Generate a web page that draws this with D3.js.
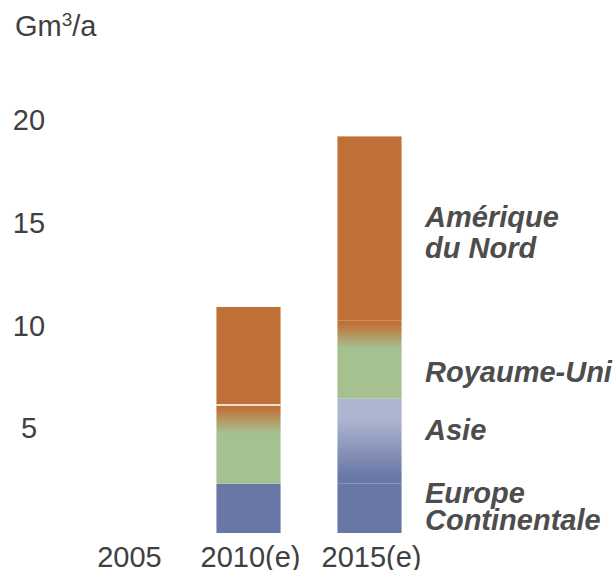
<!DOCTYPE html>
<html><head><meta charset="utf-8">
<script src="https://cdn.jsdelivr.net/npm/d3@7"></script>
<style>body{margin:0;background:#fff}svg{display:block}text{font-family:"Liberation Sans",Arial,sans-serif}</style>
</head><body>
<svg id="c" width="615" height="570"></svg>
<script>
const categories = ["2005", "2010(e)", "2015(e)"];
const seriesNames = ["Europe Continentale", "Asie", "Royaume-Uni", "Amérique du Nord"];
const europe = [0, 2.4, 2.4];
const asie = [0, 0, 4.15];
const royaumeUni = [0, 3.85, 3.8];
const ameriqueNord = [0, 4.75, 8.95];
const yTicks = [5, 10, 15, 20];
const unitLabel = ["Gm", "3", "/a"];
const legendLines = [["Amérique", "du Nord"], ["Royaume-Uni"], ["Asie"], ["Europe", "Continentale"]];

const svg = d3.select("#c");
const x = d3.scaleBand().domain(categories).range([67, 430]).paddingInner(0.47).paddingOuter(0.235);
const y = d3.scaleLinear().domain([0, 20]).range([533, 122]);

const colors = {orange:"#c07036", green:"#a6c190", blue:"#6877a6", light:"#adb5d0"};
const defs = svg.append("defs");
const gUK = defs.append("linearGradient").attr("id","gUK").attr("x1",0).attr("y1",0).attr("x2",0).attr("y2",1);
gUK.append("stop").attr("offset","0%").attr("stop-color",colors.orange);
gUK.append("stop").attr("offset","4%").attr("stop-color",colors.orange);
gUK.append("stop").attr("offset","36%").attr("stop-color",colors.green);
gUK.append("stop").attr("offset","100%").attr("stop-color",colors.green);
const gAs = defs.append("linearGradient").attr("id","gAs").attr("x1",0).attr("y1",0).attr("x2",0).attr("y2",1);
gAs.append("stop").attr("offset","0%").attr("stop-color",colors.light);
gAs.append("stop").attr("offset","25%").attr("stop-color",colors.light);
gAs.append("stop").attr("offset","92%").attr("stop-color",colors.blue);
gAs.append("stop").attr("offset","100%").attr("stop-color",colors.blue);

const fills = ["#6877a6", "url(#gAs)", "url(#gUK)", "#c07036"];
const rows = categories.map((c, i) => ({cat:c, s0:europe[i], s1:asie[i], s2:royaumeUni[i], s3:ameriqueNord[i]}));
const stack = d3.stack().keys(["s0","s1","s2","s3"])(rows);

stack.forEach((layer, li) => {
  svg.append("g").selectAll("rect").data(layer.filter(d => d[1] - d[0] > 0)).join("rect")
    .attr("x", d => x(d.data.cat))
    .attr("width", x.bandwidth())
    .attr("y", d => y(d[1]))
    .attr("height", d => y(d[0]) - y(d[1]))
    .attr("fill", fills[li]);
});
// thin white separator at top of Royaume-Uni segment in 2010(e)
const sepLayer = stack[2].filter(d => d.data.cat === "2010(e)");
svg.append("g").selectAll("line").data(sepLayer).join("line")
  .attr("x1", d => x(d.data.cat)).attr("x2", d => x(d.data.cat) + x.bandwidth())
  .attr("y1", d => y(d[1]) + 0.5).attr("y2", d => y(d[1]) + 0.5)
  .attr("stroke", "#fff").attr("stroke-width", 1.5);

// y tick labels
svg.append("g").selectAll("text").data(yTicks).join("text")
  .attr("x", 29).attr("y", d => y(d) + 8)
  .attr("text-anchor", "middle").attr("font-size", 29).attr("fill", "#404040")
  .text(d => d);

// x labels
svg.append("g").selectAll("text").data(categories).join("text")
  .attr("x", d => x(d) + x.bandwidth()/2 + 2).attr("y", 567)
  .attr("text-anchor", "middle").attr("font-size", 29).attr("fill", "#404040")
  .text(d => d);

// unit
const u = svg.append("text").attr("x", 15).attr("y", 36).attr("font-size", 29).attr("fill", "#404040");
u.append("tspan").text(unitLabel[0]);
u.append("tspan").attr("font-size", 19).attr("dy", -10).text(unitLabel[1]);
u.append("tspan").attr("dy", 10).text(unitLabel[2]);

// series labels
const labelY = [[227, 258], [382], [440], [503, 530]];
legendLines.forEach((lines, i) => {
  lines.forEach((t, j) => {
    svg.append("text").attr("x", 425).attr("y", labelY[i][j])
      .attr("font-size", 29).attr("font-weight", "bold").attr("font-style", "italic")
      .attr("fill", "#4d4d4d").text(t);
  });
});
</script>
</body></html>
